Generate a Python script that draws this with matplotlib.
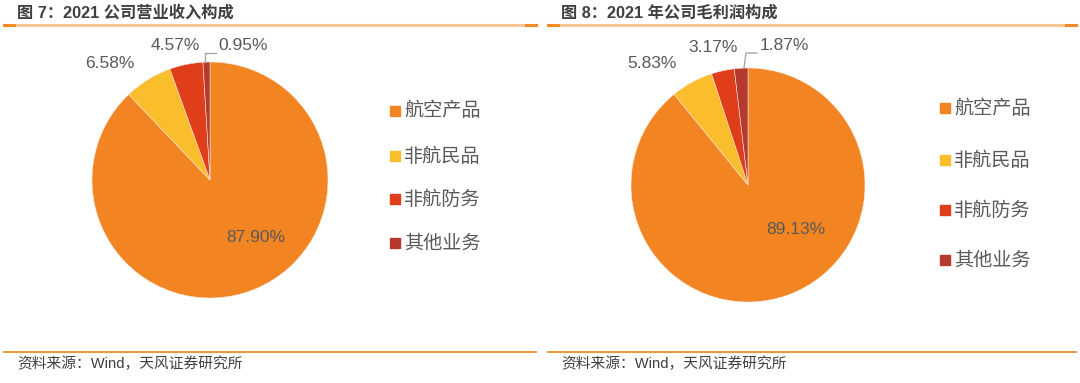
import matplotlib
matplotlib.use("Agg")
import matplotlib.pyplot as plt
from matplotlib.lines import Line2D
from matplotlib.patches import Rectangle

W, H = 1080, 383
FONT = ["Liberation Sans", "Noto Sans CJK SC", "DejaVu Sans"]
CJK = ["Noto Sans CJK SC", "DejaVu Sans"]
TXT = "#595959"

CATEGORIES = ["航空产品", "非航民品", "非航防务", "其他业务"]
COLORS = ["#F28522", "#FABD2C", "#E03D1B", "#B5392C"]
REVENUE = [87.90, 6.58, 4.57, 0.95]
PROFIT = [89.13, 5.83, 3.17, 1.87]
TITLES = ["图 7：2021 公司营业收入构成", "图 8：2021 年公司毛利润构成"]
SOURCE = "资料来源：Wind，天风证券研究所"


def fx(x):
    return x / W


def fy(y):
    return 1 - y / H


def panel(fig, x0, x1, title, values, center, radius, label_pos, leader, legend_x, legend_ys):
    # title and rules
    fig.text(fx(x0 + 13), fy(13), title, fontsize=11.7, fontweight="bold",
             color="#404040", family=FONT, va="center", ha="left")
    fig.add_artist(Line2D([fx(x0), fx(x1)], [fy(25), fy(25)], color="#F9C796", lw=2.2))
    fig.add_artist(Line2D([fx(x0), fx(x0 + 10)], [fy(25), fy(25)], color="#F28A2A", lw=2.2))
    fig.add_artist(Line2D([fx(x1 - 10), fx(x1)], [fy(25), fy(25)], color="#F28A2A", lw=2.2))
    fig.add_artist(Line2D([fx(x0), fx(x1)], [fy(352), fy(352)], color="#F28A2A", lw=1.3))
    fig.text(fx(x0 + 13), fy(364), SOURCE, fontsize=10.6, color="#404040",
             family=FONT, va="center", ha="left")

    cx, cy = center
    ax = fig.add_axes([fx(cx - radius), fy(cy + radius), 2 * radius / W, 2 * radius / H])
    ax.pie(values, colors=COLORS, startangle=90, counterclock=False,
           wedgeprops=dict(linewidth=0.4, edgecolor="#F5E6DA"))
    ax.set_xlim(-1, 1)
    ax.set_ylim(-1, 1)
    ax.set_aspect("auto")
    ax.axis("off")

    for v, (lx, ly) in zip(values, label_pos):
        fig.text(fx(lx), fy(ly), f"{v:.2f}%", fontsize=12.5, color=TXT,
                 family=FONT, va="center", ha="center")
    xs, ys = zip(*leader)
    fig.add_artist(Line2D([fx(x) for x in xs], [fy(y) for y in ys], color="#A6A6A6", lw=1))

    for name, c, ly in zip(CATEGORIES, COLORS, legend_ys):
        fig.add_artist(Rectangle((fx(legend_x), fy(ly + 5)), 10 / W, 10 / H,
                                 color=c, transform=fig.transFigure))
        fig.text(fx(legend_x + 14), fy(ly), name, fontsize=13.8, color=TXT,
                 family=CJK, va="center", ha="left")


fig = plt.figure(figsize=(W / 100, H / 100), dpi=100)
panel(fig, 4, 536, TITLES[0], REVENUE, (210, 180), 118,
      [(256, 237), (110, 64), (175, 45), (243, 45)],
      [(205, 62), (205, 53), (216, 53)],
      390, [111, 156, 199, 243])
panel(fig, 548, 1076, TITLES[1], PROFIT, (748, 185), 117,
      [(796, 230), (652, 64), (713, 48), (784, 46)],
      [(744, 68), (746, 53), (757, 53)],
      940, [108, 160, 210, 260])
fig.savefig("out.png", dpi=100, facecolor="white")
